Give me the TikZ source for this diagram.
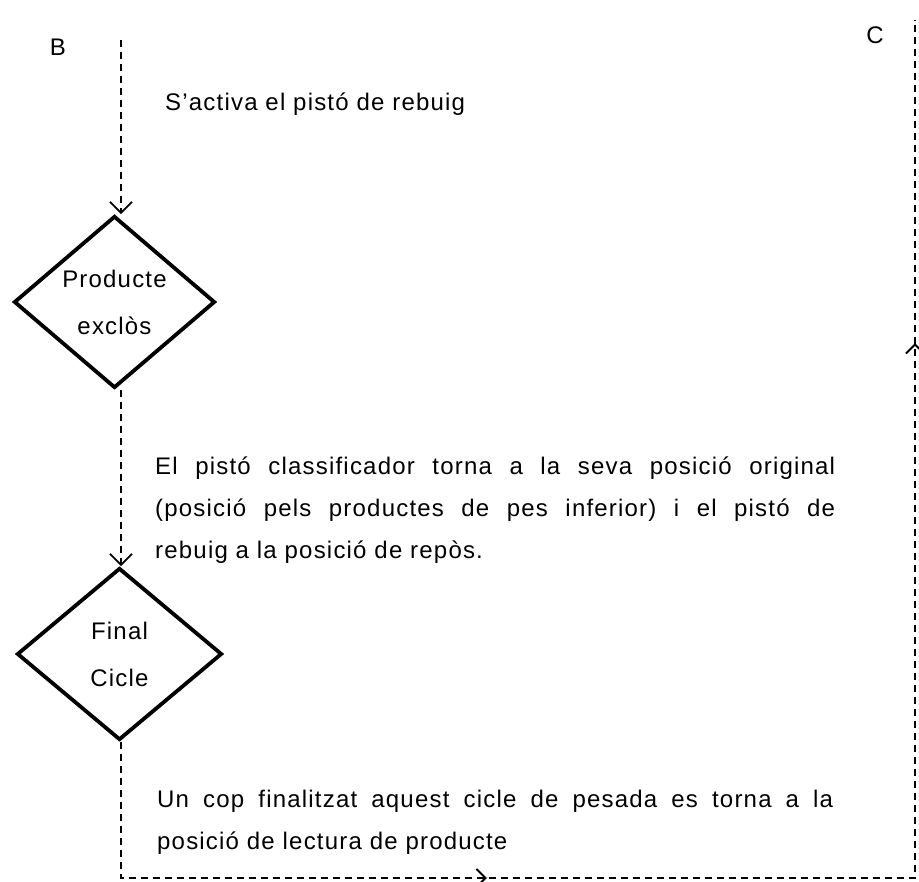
\documentclass[tikz,border=0pt]{standalone}
\usepackage{fontspec}
\setmainfont{Liberation Sans}[LetterSpace=5]
\usetikzlibrary{shapes.geometric,arrows.meta,decorations.markings}
\begin{document}
\begin{tikzpicture}[x=1pt,y=-1pt,
  txt/.style={font=\fontsize{24}{42}\selectfont, inner sep=0pt, text=black},
  dec/.style={diamond, draw, line width=3.8pt, inner sep=0pt, aspect=1.17, align=center, font=\fontsize{24}{47}\selectfont, text=black},
  flow/.style={dash pattern=on 7pt off 5pt, line width=1.7pt},
  tip/.style={-{Straight Barb[length=11pt,width=22pt,line width=1.8pt]}},
  midtips/.style 2 args={>={Straight Barb[length=9pt,width=18pt,line width=2pt]}, postaction={decorate, decoration={markings, mark=at position #1 with {\arrow{>}}, mark=at position #2 with {\arrow{>}}}}}
]
\useasboundingbox (0,0) rectangle (919,882);
\node[txt] (lB) at (58,47) {B};
\node[txt] (lC) at (875,35) {C};
\coordinate (s1) at (121,40);
\coordinate (c1) at (121,878);
\coordinate (c2) at (915,878);
\coordinate (e1) at (915,20);
\node[dec, minimum width=201pt, minimum height=172pt] (d1) at (114.5,302) {Producte\\exclòs};
\node[dec, minimum width=205pt, minimum height=172pt] (d2) at (119.5,654) {Final\\Cicle};
\node[txt, anchor=base west] (t1) at (165,111) {S'activa el pistó de rebuig};
\node[txt, anchor=base west, text width=680pt, align=justify] (t2) at (155,475) {El pistó classificador torna a la seva posició original\linebreak (posició pels productes de pes inferior) i el pistó de\linebreak rebuig a la posició de repòs.};
\node[txt, anchor=base west, text width=676pt, align=justify] (t3) at (157,807) {Un cop finalitzat aquest cicle de pesada es torna a la\linebreak posició de lectura de producte};
\draw[flow, tip] (s1) -- (s1 |- d1.north);
\draw[flow, tip] (d1.south -| s1) -- (d2.north -| s1);
\draw[flow, line width=2.1pt, midtips={502pt}{1465pt}] (d2.south -| s1) -- (c1) -- (c2) -- (e1);
\end{tikzpicture}
\end{document}
